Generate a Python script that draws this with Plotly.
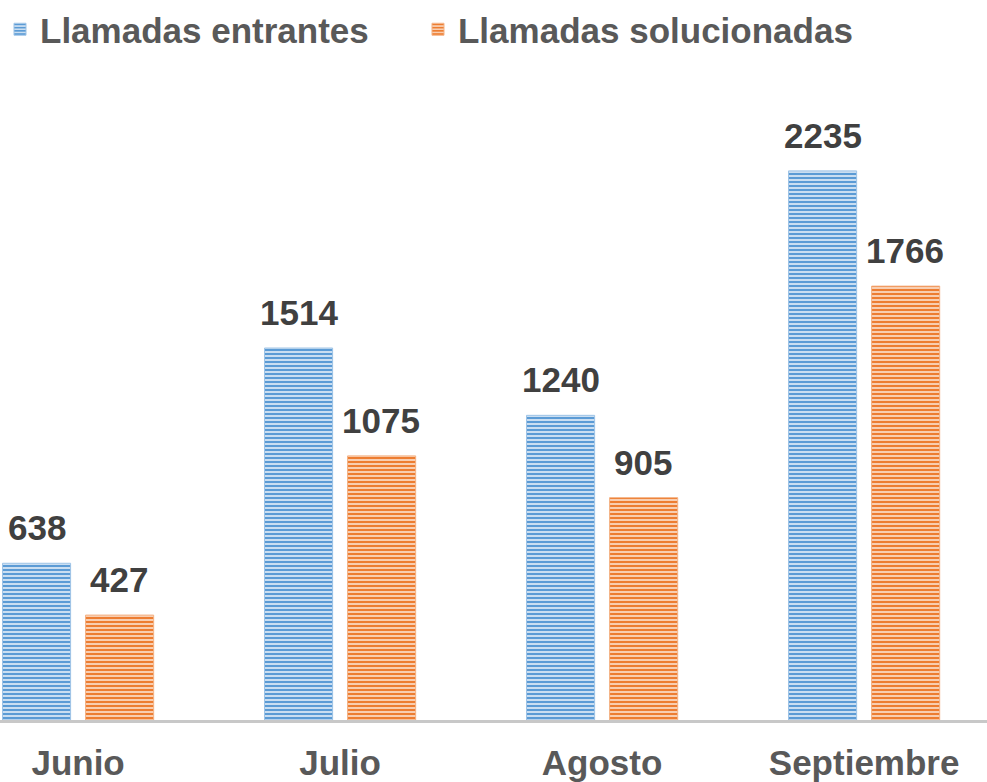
import plotly.graph_objects as go

categories = ["Junio", "Julio", "Agosto", "Septiembre"]
entrantes = [638, 1514, 1240, 2235]
solucionadas = [427, 1075, 905, 1766]
series_names = ["Llamadas entrantes", "Llamadas solucionadas"]

BLUE = "#5B9BD5"
BLUE_LIGHT = "#d6e6f5"
ORANGE = "#ED7D31"
ORANGE_LIGHT = "#fad7bf"
FONT = "Liberation Sans, Arial, sans-serif"

fig = go.Figure()
fig.add_trace(go.Bar(
    x=categories, y=entrantes, name=series_names[0], legend="legend",
    marker=dict(color=BLUE_LIGHT, line=dict(color="#9dc3e6", width=1),
                pattern=dict(shape="-", fgcolor=BLUE, bgcolor=BLUE_LIGHT, size=4, solidity=0.55, fillmode="replace")),
))
fig.add_trace(go.Bar(
    x=categories, y=solucionadas, name=series_names[1], legend="legend2",
    marker=dict(color=ORANGE_LIGHT, line=dict(color="#f4b183", width=1),
                pattern=dict(shape="-", fgcolor=ORANGE, bgcolor=ORANGE_LIGHT, size=4, solidity=0.55, fillmode="replace")),
))

annotations = []
for vals, shift in ((entrantes, -41), (solucionadas, 41)):
    for c, v in zip(categories, vals):
        annotations.append(dict(
            x=c, y=v, text=str(v), showarrow=False, xanchor="center", yanchor="bottom",
            xshift=shift, yshift=14,
            font=dict(family=FONT, size=35, color="#404040", weight="bold"),
        ))

legend_font = dict(family=FONT, size=35, color="#595959", weight="bold")
fig.update_layout(
    width=987, height=782,
    margin=dict(l=0, r=0, t=60, b=60),
    plot_bgcolor="white", paper_bgcolor="white",
    barmode="group", bargap=0.366, bargroupgap=0.18,
    showlegend=True,
    legend=dict(orientation="h", x=0.0, xanchor="left", y=1.0529, yanchor="middle",
                font=legend_font, itemwidth=30, bgcolor="rgba(0,0,0,0)"),
    legend2=dict(orientation="h", x=0.4235, xanchor="left", y=1.0529, yanchor="middle",
                 font=legend_font, itemwidth=30, bgcolor="rgba(0,0,0,0)"),
    xaxis=dict(range=[-0.298, 3.469], showline=True, linecolor="#c8c8c8", linewidth=3,
               tickfont=dict(family=FONT, size=35, color="#595959", weight="bold"),
               ticks="", showgrid=False, ticklabelstandoff=10),
    yaxis=dict(range=[0, 2670], visible=False, showgrid=False, zeroline=False),
    annotations=annotations,
)

fig.write_html("out.html", config={"displayModeBar": False},
               post_script="document.body.style.margin='0';")
